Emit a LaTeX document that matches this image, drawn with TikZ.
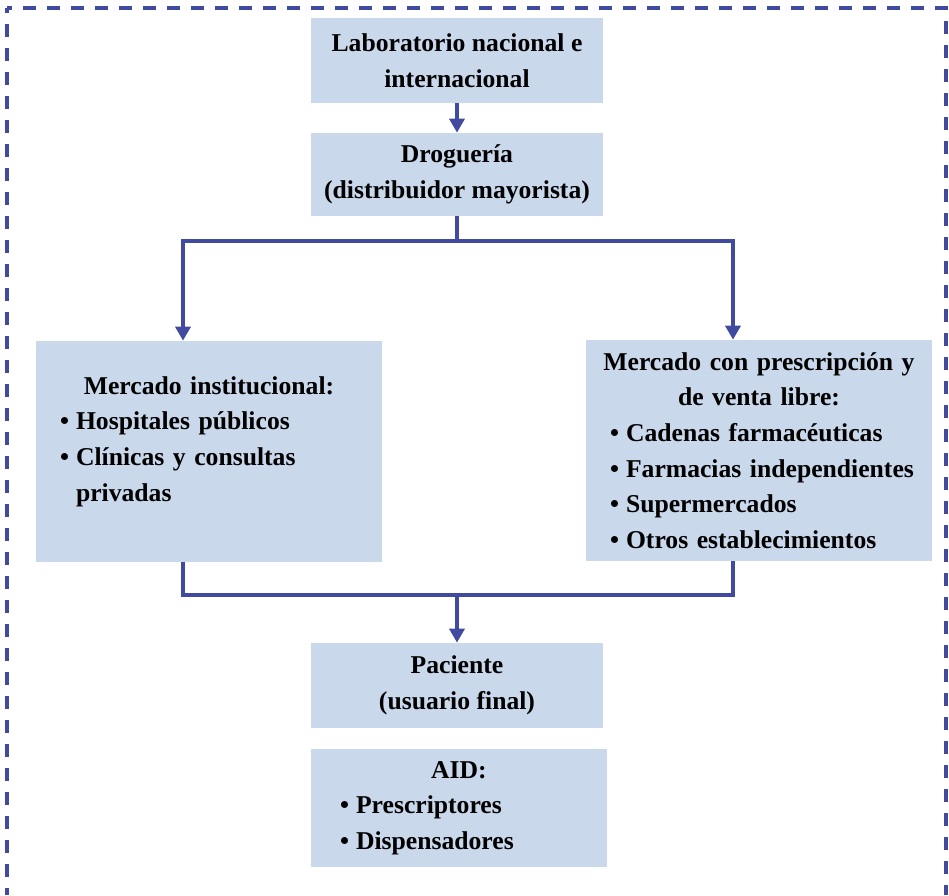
\documentclass[tikz,border=0pt]{standalone}
\usepackage{fontspec}
\setmainfont{Liberation Serif}
\usepackage{tikz}
\usetikzlibrary{arrows.meta}
\definecolor{boxblue}{HTML}{C9D8EA}
\definecolor{lineblue}{HTML}{404A9E}
% bullet item and centred heading inside the boxes
\newcommand{\bitem}[2][0.32cm]{\par\leftskip=#1\hangindent=0.32cm\hangafter=1\noindent\makebox[0.32cm][l]{\textbullet}#2}
\newcommand{\boxtitle}[1]{{\centering #1\par}}
\tikzset{
  box/.style={fill=boxblue, inner xsep=0.16cm, inner ysep=0pt, align=left,
    font=\fontsize{14.6}{20.3}\selectfont\bfseries},
  link/.style={draw=lineblue, line width=0.07cm},
  arr/.style={link, ->, >={Triangle[width=0.30cm, length=0.28cm]}},
  border/.style={draw=lineblue, line width=0.075cm, dash pattern=on 0.26cm off 0.22cm, dash phase=0.16cm}
}
\begin{document}
\begin{tikzpicture}[x=0.02cm, y=-0.02cm]
        \useasboundingbox (0,0) rectangle (949,895);

        % Outer dashed frame
        \draw[border] (7,8)--(946,8)--(946,895);
        \draw[border] (7,8)--(7,895);

        % Laboratorio
        \node[box, align=center, minimum width=5.84cm, minimum height=1.70cm] (lab) at (457,60.5)
        {Laboratorio nacional e\\internacional};

        % Drogueria
        \node[box, align=center, minimum width=5.84cm, minimum height=1.66cm] (drog) at (457,174.5)
        {Droguería\\(distribuidor mayorista)};

        % Mercado institucional
        \node[box, text width=6.60cm, minimum height=4.42cm] (inst) at (209,451.5)
        {\boxtitle{Mercado institucional:}\bitem{Hospitales públicos}\bitem{Clínicas y consultas\newline privadas}\par
         \nointerlineskip\vspace{0.4cm}\hbox{}};

        % Mercado con prescripcion
        \node[box, text width=6.60cm, minimum height=4.42cm] (presc) at (759,450.5)
        {\boxtitle{Mercado con prescripción y\par de venta libre:}\bitem{Cadenas farmacéuticas}%
         \bitem{Farmacias independientes}\bitem{Supermercados}\bitem{Otros establecimientos}\par};

        % Paciente
        \node[box, align=center, minimum width=5.84cm, minimum height=1.70cm] (pac) at (457,685.5)
        {Paciente\\(usuario final)};

        % AID
        \node[box, text width=5.60cm, minimum height=2.36cm] (aid) at (459,808)
        {\boxtitle{AID:}\bitem[0.42cm]{Prescriptores}\bitem[0.42cm]{Dispensadores}\par};

        % split and join points
        \coordinate (splitL) at (183,241);
        \coordinate (splitR) at (733,241);
        \coordinate (joinL) at (183,595);
        \coordinate (joinR) at (733,595);
        \coordinate (joinM) at (457,595);

        % arrows
        \draw[arr] (lab)--(drog);
        \draw[arr] (drog.south) |- (splitL)--(splitL |- inst.north);
        \draw[arr] (drog.south) |- (splitR)--(splitR |- presc.north);
        \draw[link] (inst.south -| joinL) |- (joinR)--(joinR |- presc.south);
        \draw[arr] (joinM)--(pac);

\end{tikzpicture}
\end{document}
